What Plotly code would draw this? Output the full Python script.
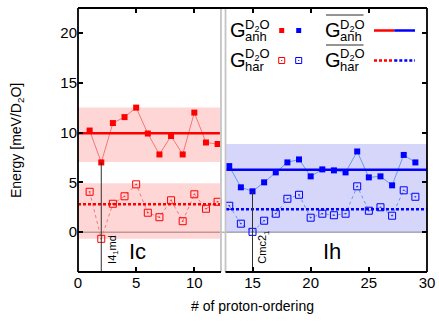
import plotly.graph_objects as go

# ---------------- data ----------------
ic_x = [1, 2, 3, 4, 5, 6, 7, 8, 9, 10, 11, 12]
ic_anh = [10.2, 7.0, 10.95, 11.55, 12.5, 9.9, 7.8, 9.65, 7.8, 12.0, 9.0, 8.85]
ic_har = [4.05, -0.67, 2.85, 3.6, 4.8, 1.95, 1.5, 3.2, 1.1, 3.8, 2.35, 3.05]

ih_x = [13, 14, 15, 16, 17, 18, 19, 20, 21, 22, 23, 24, 25, 26, 27, 28, 29]
ih_anh = [6.63, 4.5, 4.1, 5.0, 6.0, 7.0, 7.3, 5.6, 6.3, 6.2, 6.0, 8.1, 5.5, 5.6, 4.7, 7.75, 7.0]
ih_har = [2.65, 0.85, 0.03, 1.15, 1.85, 3.35, 3.75, 1.45, 1.85, 1.7, 1.85, 4.6, 2.15, 2.5, 1.65, 4.2, 3.55]

ic_mean_anh = 9.93
ic_mean_har = 2.8
ih_mean_anh = 6.26
ih_mean_har = 2.3

ic_band_anh = [7.05, 12.5]
ic_band_har = [-0.67, 4.9]
ih_band = [0.0, 8.85]

ic_span = [0, 12.2]
ih_span = [12.72, 30]
separators = [12.29, 12.68]

special_x = [2, 15]
special_labels = ["I4<sub>1</sub>md", "Cmc2<sub>1</sub>"]

x_ticks = [0, 5, 10, 15, 20, 25, 30]
y_ticks = [0, 5, 10, 15, 20]
x_range = [0, 30]
y_range = [-4, 22.5]

# ---------------- layout helpers ----------------
W, H = 439, 324
L, R, T, B = 78, 427, 8, 272
FONT = "Liberation Sans, Arial, Helvetica, sans-serif"


def px(xp):
    return (xp - L) / (R - L)


def py(yp):
    return (B - yp) / (B - T)


RED = "#ff0000"
BLUE = "#0000ff"
RED_LINE = "#f07878"
BLUE_LINE = "#6a9ae8"

fig = go.Figure()

# connecting lines + markers
fig.add_trace(go.Scatter(x=ic_x, y=ic_anh, mode="lines+markers",
                         line=dict(color=RED_LINE, width=1),
                         marker=dict(symbol="square", size=6, color=RED)))
fig.add_trace(go.Scatter(x=ic_x, y=ic_har, mode="lines+markers",
                         line=dict(color=RED_LINE, width=1, dash="dot"),
                         marker=dict(symbol="square-open-dot", size=7, color=RED,
                                     line=dict(width=1, color=RED))))
fig.add_trace(go.Scatter(x=ih_x, y=ih_anh, mode="lines+markers",
                         line=dict(color=BLUE_LINE, width=1),
                         marker=dict(symbol="square", size=6, color=BLUE)))
fig.add_trace(go.Scatter(x=ih_x, y=ih_har, mode="lines+markers",
                         line=dict(color=BLUE_LINE, width=1, dash="dot"),
                         marker=dict(symbol="square-open-dot", size=7, color=BLUE,
                                     line=dict(width=1, color=BLUE))))

# mean lines
fig.add_trace(go.Scatter(x=ic_span, y=[ic_mean_anh] * 2, mode="lines",
                         line=dict(color=RED, width=2.5)))
fig.add_trace(go.Scatter(x=ic_span, y=[ic_mean_har] * 2, mode="lines",
                         line=dict(color=RED, width=2.5, dash="3px,2px")))
fig.add_trace(go.Scatter(x=ih_span, y=[ih_mean_anh] * 2, mode="lines",
                         line=dict(color=BLUE, width=2.5)))
fig.add_trace(go.Scatter(x=ih_span, y=[ih_mean_har] * 2, mode="lines",
                         line=dict(color=BLUE, width=2.5, dash="3px,2px")))

# vertical markers for special orderings
all_x = ic_x + ih_x
all_anh = ic_anh + ih_anh
for sx in special_x:
    fig.add_trace(go.Scatter(x=[sx, sx], y=[y_range[0], all_anh[all_x.index(sx)]],
                             mode="lines", line=dict(color="#303030", width=1)))

shapes = []
# bands
shapes.append(dict(type="rect", xref="x", yref="y", x0=ic_span[0], x1=ic_span[1],
                   y0=ic_band_anh[0], y1=ic_band_anh[1], fillcolor="rgba(255,0,0,0.16)",
                   line=dict(width=0), layer="below"))
shapes.append(dict(type="rect", xref="x", yref="y", x0=ic_span[0], x1=ic_span[1],
                   y0=ic_band_har[0], y1=ic_band_har[1], fillcolor="rgba(255,0,0,0.16)",
                   line=dict(width=0), layer="below"))
shapes.append(dict(type="rect", xref="x", yref="y", x0=ih_span[0], x1=ih_span[1],
                   y0=ih_band[0], y1=ih_band[1], fillcolor="rgba(0,0,230,0.16)",
                   line=dict(width=0), layer="below"))
# zero line
shapes.append(dict(type="line", xref="paper", yref="y", x0=0, x1=1, y0=0, y1=0,
                   line=dict(color="#b4b4b4", width=1.5), layer="below"))
# separators
for s in separators:
    shapes.append(dict(type="line", xref="x", yref="paper", x0=s, x1=s, y0=0, y1=1,
                       line=dict(color="#c4c4c4", width=1.8), layer="above"))
# frame: top, left, right, bottom split at separators
frame = dict(color="black", width=1.8)
shapes.append(dict(type="line", xref="paper", yref="paper", x0=0, x1=1, y0=1, y1=1, line=frame))
shapes.append(dict(type="line", xref="paper", yref="paper", x0=0, x1=0, y0=0, y1=1, line=frame))
shapes.append(dict(type="line", xref="paper", yref="paper", x0=1, x1=1, y0=0, y1=1, line=frame))
shapes.append(dict(type="line", xref="x", yref="paper", x0=x_range[0], x1=separators[0],
                   y0=0, y1=0, line=frame))
shapes.append(dict(type="line", xref="x", yref="paper", x0=separators[1], x1=x_range[1],
                   y0=0, y1=0, line=frame))

# ---------------- legend (hand-built) ----------------
ann = []


def txt(xp, yp, text, size, xanchor="left"):
    ann.append(dict(xref="paper", yref="paper", x=px(xp), y=py(yp), text=text,
                    showarrow=False, xanchor=xanchor, yanchor="middle", borderpad=0,
                    font=dict(family=FONT, size=size, color="black")))


for row, (yc, sub) in enumerate([(30.5, "anh"), (60.5, "har")]):
    # left column
    txt(228.5, yc - 0.5, "G", 20)
    txt(243.5, yc - 5.5, "D<sub>2</sub>O", 13)
    txt(243.5, yc + 5.5, sub, 13)
    # right column (mean, with overline)
    txt(324, yc - 0.5, "G", 20)
    txt(339, yc - 5.5, "D<sub>2</sub>O", 13)
    txt(339, yc + 5.5, sub, 13)
    shapes.append(dict(type="line", xref="paper", yref="paper", x0=px(326), x1=px(363.5),
                       y0=py(yc - 15.5), y1=py(yc - 15.5), line=dict(color="#707070", width=1.5)))
    dash = None if row == 0 else "3px,2px"
    shapes.append(dict(type="line", xref="paper", yref="paper", x0=px(374), x1=px(394.3),
                       y0=py(yc), y1=py(yc), line=dict(color=RED, width=2.5, dash=dash)))
    shapes.append(dict(type="line", xref="paper", yref="paper", x0=px(394.3), x1=px(415),
                       y0=py(yc), y1=py(yc), line=dict(color=BLUE, width=2.5, dash=dash)))
    for cx, col in [(281.7, RED), (298.7, BLUE)]:
        if row == 0:
            shapes.append(dict(type="rect", xref="paper", yref="paper",
                               x0=px(cx - 2.5), x1=px(cx + 2.5), y0=py(yc + 2.5), y1=py(yc - 2.5),
                               fillcolor=col, line=dict(width=0)))
        else:
            shapes.append(dict(type="rect", xref="paper", yref="paper",
                               x0=px(cx - 3), x1=px(cx + 3), y0=py(yc + 3), y1=py(yc - 3),
                               fillcolor="rgba(0,0,0,0)", line=dict(color=col, width=1)))
            shapes.append(dict(type="rect", xref="paper", yref="paper",
                               x0=px(cx - 0.6), x1=px(cx + 0.6), y0=py(yc + 0.6), y1=py(yc - 0.6),
                               fillcolor=col, line=dict(width=0)))

# region labels
ann.append(dict(xref="x", yref="y", x=5.1, y=-1.9, text="Ic", showarrow=False,
                font=dict(family=FONT, size=22, color="black")))
ann.append(dict(xref="x", yref="y", x=21.8, y=-1.9, text="Ih", showarrow=False,
                font=dict(family=FONT, size=22, color="black")))
# special labels
for sx, lab, yt in zip(special_x, special_labels, [-0.1, 0.35]):
    ann.append(dict(xref="x", yref="y", x=sx, y=yt, text=lab, showarrow=False,
                    textangle=-90, xanchor="left", yanchor="top", xshift=2,
                    font=dict(family=FONT, size=11, color="black")))
# axis titles
ann.append(dict(xref="paper", yref="paper", x=px(252), y=py(306), text="# of proton-ordering",
                showarrow=False, xanchor="center", yanchor="middle",
                font=dict(family=FONT, size=14, color="black")))
ann.append(dict(xref="paper", yref="paper", x=px(17), y=py(140),
                text="Energy [meV/D<sub>2</sub>O]", showarrow=False, textangle=-90,
                xanchor="center", yanchor="middle",
                font=dict(family=FONT, size=14, color="black")))

fig.update_layout(
    template="none",
    width=W, height=H,
    margin=dict(l=L, r=W - R, t=T, b=H - B, pad=0, autoexpand=False),
    paper_bgcolor="white", plot_bgcolor="white",
    showlegend=False,
    shapes=shapes, annotations=ann,
    font=dict(family=FONT, size=14, color="black"),
)
fig.update_xaxes(range=x_range, tickvals=x_ticks, ticks="inside", ticklen=5, tickwidth=1.5,
                 tickcolor="black", mirror="ticks", showline=False, showgrid=False,
                 zeroline=False, automargin=False, tickfont=dict(size=15))
fig.update_yaxes(range=y_range, tickvals=y_ticks, ticks="inside", ticklen=5, tickwidth=1.5,
                 tickcolor="black", mirror="ticks", showline=False, showgrid=False,
                 zeroline=False, automargin=False, tickfont=dict(size=15))

fig.write_html("out.html", config={"displayModeBar": False},
               post_script="document.body.style.margin='0';")
